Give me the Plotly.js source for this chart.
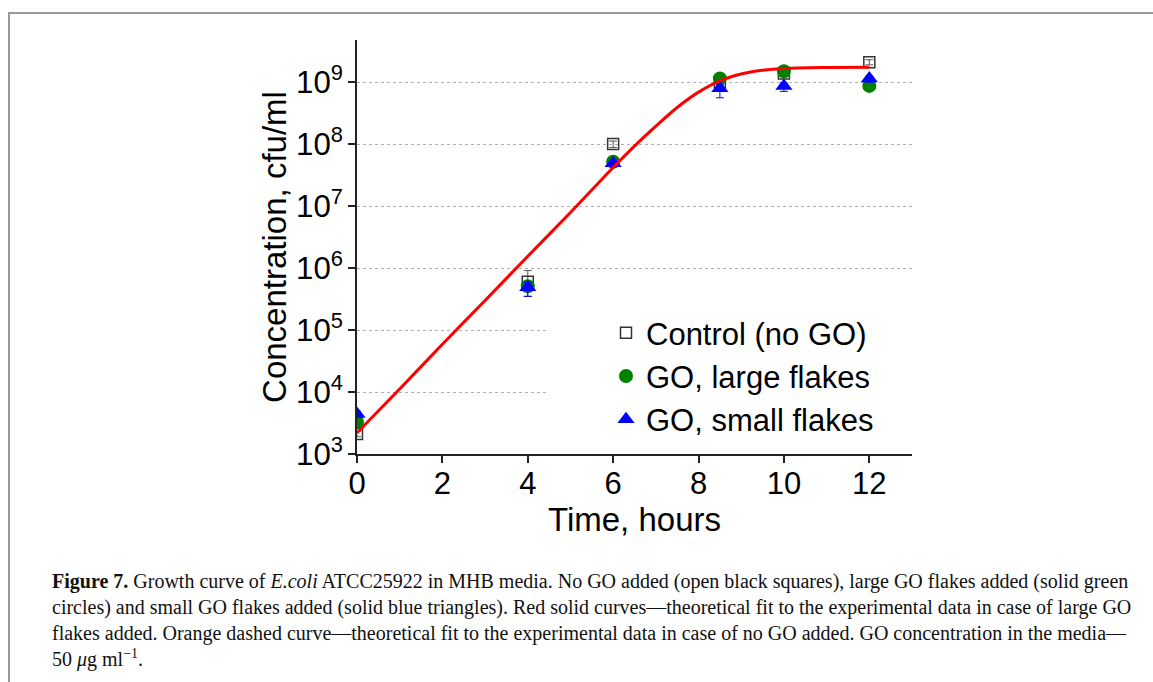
<!DOCTYPE html>
<html>
<head>
<meta charset="utf-8">
<script src="https://cdn.plot.ly/plotly-3.0.1.min.js"></script>
<style>
  html, body { margin: 0; padding: 0; background: #fff; }
  #wrap { position: relative; width: 1153px; height: 682px; overflow: hidden; }
  #chart { position: absolute; left: 0; top: 0; width: 1153px; height: 682px; }
  #frame { position: absolute; left: 8px; top: 12px; right: -4px; bottom: -4px;
           border-top: 2px solid #9a9a9a; border-left: 2px solid #9a9a9a; pointer-events: none; }
</style>
</head>
<body>
<div id="wrap">
  <div id="chart"></div>
  <div id="frame"></div>
</div>
<script>
// Sampling times, hours
const timeHours = [0, 4, 6, 8.5, 10, 12];

// Bacterial concentration, cfu/ml
const controlNoGO   = [2.1e3, 6.0e5, 1.0e8, 1.0e9, 1.38e9, 2.1e9];
const controlErrUp  = [2.0e2, 3.1e5, 1.2e7, 1.0e8, 1.5e8, 2.0e8];
const controlErrDn  = [2.0e2, 2.5e5, 1.2e7, 1.0e8, 1.5e8, 2.0e8];

const goLarge       = [3.3e3, 5.1e5, 5.2e7, 1.15e9, 1.5e9, 8.7e8];
const goLargeErr    = [3.0e2, 8.0e4, 6.0e6, 1.0e8, 1.0e8, 1.0e8];

const goSmall       = [4.4e3, 4.9e5, 4.9e7, 8.0e8, 8.7e8, 1.15e9];
const goSmallErrUp  = [5.0e2, 1.0e5, 6.0e6, 1.0e8, 1.0e8, 1.0e8];
const goSmallErrDn  = [5.0e2, 1.4e5, 6.0e6, 2.4e8, 1.6e8, 1.5e8];

// Theoretical growth curve (large GO flakes)
const fitTime  = [0, 1, 2, 3, 4, 5, 6, 6.5, 7, 7.5, 8, 8.5, 9, 9.5, 10, 11, 12];
const fitConc  = [2.2e3, 1.12e4, 5.9e4, 3.0e5, 1.55e6, 7.9e6, 4.2e7, 9.3e7, 1.95e8,
                  3.9e8, 6.9e8, 1.05e9, 1.35e9, 1.55e9, 1.66e9, 1.72e9, 1.74e9];

const seriesNames = ['Control (no GO)', 'GO, large flakes', 'GO, small flakes'];
const xTickVals = [0, 2, 4, 6, 8, 10, 12];

const SANS = 'Liberation Sans, Arial, sans-serif';
const SERIF = 'Liberation Serif, Times New Roman, serif';

const traces = [
  {
    x: timeHours, y: controlNoGO, name: seriesNames[0], type: 'scatter', mode: 'markers',
    marker: { symbol: 'square-open', size: 11, color: '#333', line: { width: 1.5, color: '#333' } },
    error_y: { type: 'data', array: controlErrUp, arrayminus: controlErrDn, symmetric: false,
               color: '#555', thickness: 1, width: 4 }
  },
  {
    x: timeHours, y: goLarge, name: seriesNames[1], type: 'scatter', mode: 'markers',
    marker: { symbol: 'circle', size: 14, color: '#008000' },
    error_y: { type: 'data', array: goLargeErr, color: '#008000', thickness: 1, width: 4 }
  },
  {
    x: timeHours, y: goSmall, name: seriesNames[2], type: 'scatter', mode: 'markers',
    marker: { symbol: 'triangle-up', size: 15, color: '#0000ff' },
    error_y: { type: 'data', array: goSmallErrUp, arrayminus: goSmallErrDn, symmetric: false,
               color: '#0000ff', thickness: 1, width: 4 }
  },
  {
    x: fitTime, y: fitConc, type: 'scatter', mode: 'lines', showlegend: false,
    line: { color: '#ff0000', width: 3, shape: 'spline', smoothing: 0.8 }
  }
];

// plot area in pixels
const L = 357, R = 912, T = 40, B = 454;
const W = 1153, H = 682;
const px = v => (v - L) / (R - L);
const py = v => (B - v) / (B - T);

const caption =
  '<b>Figure 7.</b> Growth curve of <i>E.coli</i> ATCC25922 in MHB media. No GO added (open black squares), large GO flakes added (solid green<br>' +
  'circles) and small GO flakes added (solid blue triangles). Red solid curves—theoretical fit to the experimental data in case of large GO<br>' +
  'flakes added. Orange dashed curve—theoretical fit to the experimental data in case of no GO added. GO concentration in the media—<br>' +
  '50 <i>μ</i>g ml<sup>−1</sup>.';

const layout = {
  width: W, height: H,
  margin: { l: L, r: W - R, t: T, b: H - B, pad: 0 },
  paper_bgcolor: 'rgba(0,0,0,0)', plot_bgcolor: '#fff',
  font: { family: SANS, color: '#000' },
  showlegend: true,
  legend: {
    x: px(606), y: py(306), xanchor: 'left', yanchor: 'top',
    bgcolor: 'rgba(0,0,0,0)', borderwidth: 0,
    font: { family: SANS, size: 31, color: '#000' }
  },
  xaxis: {
    range: [0, 13], tickvals: xTickVals, ticktext: xTickVals.map(String),
    showgrid: false, zeroline: false,
    showline: true, linecolor: '#222', linewidth: 2,
    ticks: 'outside', ticklen: 7, tickwidth: 2, tickcolor: '#222',
    ticklabelstandoff: -6,
    tickfont: { family: SANS, size: 31, color: '#000' },
    title: { text: 'Time, hours', font: { family: SANS, size: 33, color: '#000' }, standoff: 6 }
  },
  yaxis: {
    type: 'log', range: [3, 9.68], dtick: 1, exponentformat: 'power',
    showgrid: true, gridcolor: '#b0b0b0', gridwidth: 1, griddash: 'dot',
    showline: true, linecolor: '#222', linewidth: 2,
    ticks: 'outside', ticklen: 7, tickwidth: 2, tickcolor: '#222',
    tickfont: { family: SANS, size: 25, color: '#000' },
    title: { text: 'Concentration, cfu/ml', font: { family: SANS, size: 33, color: '#000' }, standoff: 0 }
  },
  shapes: [
    { // blank panel behind the legend, hiding the grid there
      type: 'rect', xref: 'paper', yref: 'paper', layer: 'above',
      x0: px(547), x1: 1, y0: py(446), y1: py(298),
      fillcolor: '#fff', line: { width: 0 }
    }
  ],
  annotations: [
    {
      xref: 'paper', yref: 'paper', x: px(50), y: py(568), xanchor: 'left', yanchor: 'top',
      align: 'left', showarrow: false, text: caption,
      font: { family: SERIF, size: 20, color: '#111' }
    }
  ]
};

Plotly.newPlot('chart', traces, layout, { displayModeBar: false, staticPlot: true });
</script>
</body>
</html>
